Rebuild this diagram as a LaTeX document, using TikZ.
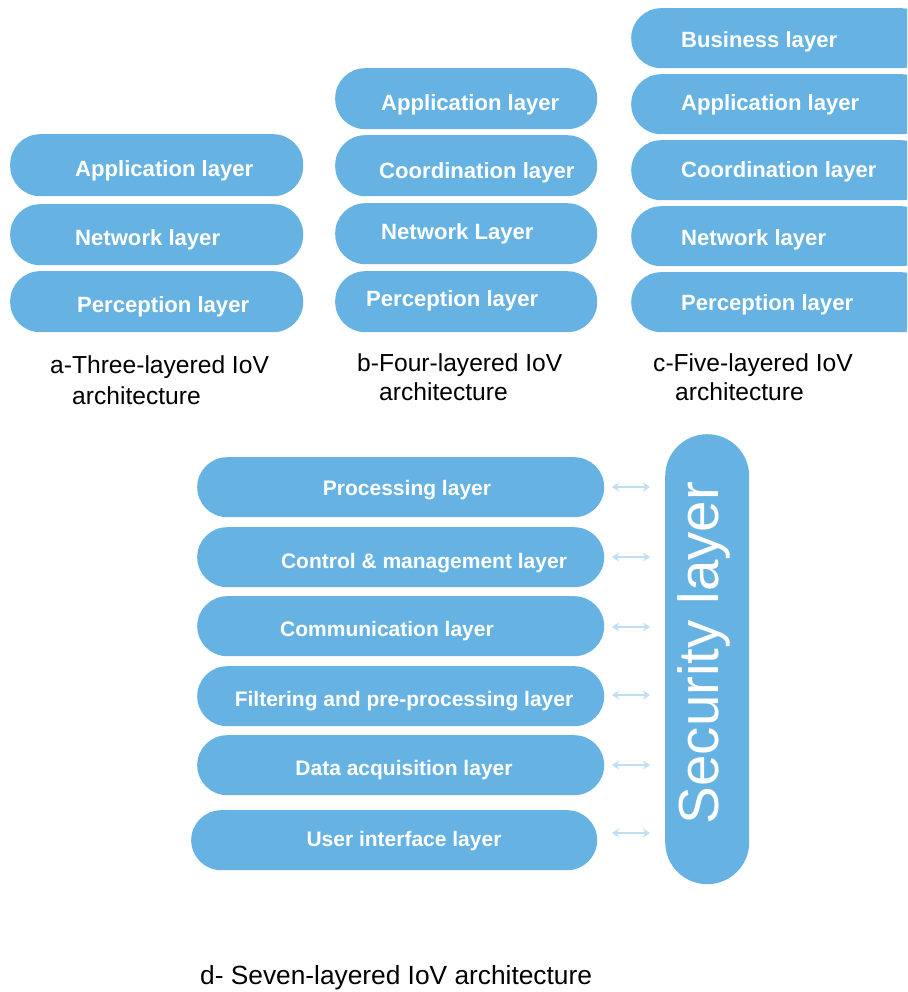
\documentclass[tikz,border=0pt]{standalone}
\usepackage{fontspec}
\setmainfont{Liberation Sans}
\usetikzlibrary{arrows.meta,calc}
\definecolor{layerblue}{HTML}{66B3E3}
\definecolor{arrowblue}{HTML}{BFDFF4}
\tikzset{
  layer/.style={draw=none, fill=layerblue, rectangle, rounded corners=30pt,
    inner sep=0pt, anchor=north west},
  lbl/.style={anchor=base west, text=white, inner sep=0pt,
    font=\bfseries\fontsize{22.1}{25}\selectfont},
  lblc/.style={anchor=base, text=white, inner sep=0pt,
    font=\bfseries\fontsize{21}{24}\selectfont},
  captext/.style={anchor=base west, inner sep=0pt, font=\fontsize{24.6}{27}\selectfont},
  link/.style={arrowblue, line width=1.6pt,
    {Stealth[length=7pt,width=9pt]}-{Stealth[length=7pt,width=9pt]},
    shorten >=15pt},
}
\begin{document}
\begin{tikzpicture}[x=1pt,y=-1pt]
\clip (0,0) rectangle (907,992);
\fill[white] (0,0) rectangle (907,992);

% three-layered stack
\node[layer, minimum width=293pt, minimum height=62pt] (a1) at (10,134) {};
\node[layer, minimum width=293pt, minimum height=61pt] (a2) at (10,204) {};
\node[layer, minimum width=293pt, minimum height=61pt] (a3) at (10,271) {};
\node[lbl] (a1t) at (75,177) {Application layer};
\node[lbl] (a2t) at (75,245) {Network layer};
\node[lbl] (a3t) at (77,312) {Perception layer};
\node[captext] (acap1) at (50,373) {a-Three-layered IoV};
\node[captext] (acap2) at (72,404) {architecture};

% four-layered stack
\node[layer, minimum width=262pt, minimum height=61pt] (b1) at (335,68) {};
\node[layer, minimum width=262pt, minimum height=61pt] (b2) at (335,135) {};
\node[layer, minimum width=262pt, minimum height=61pt] (b3) at (335,203) {};
\node[layer, minimum width=262pt, minimum height=61pt] (b4) at (335,271) {};
\node[lbl] (b1t) at (381,111) {Application layer};
\node[lbl] (b2t) at (379,179) {Coordination layer};
\node[lbl] (b3t) at (381,240) {Network Layer};
\node[lbl] (b4t) at (366,306) {Perception layer};
\node[captext] (bcap1) at (357,371) {b-Four-layered IoV};
\node[captext] (bcap2) at (379,400) {architecture};

% five-layered stack (runs past the right edge)
\node[layer, minimum width=300pt, minimum height=60pt] (c1) at (631,8) {};
\node[layer, minimum width=300pt, minimum height=60pt] (c2) at (631,74) {};
\node[layer, minimum width=300pt, minimum height=60pt] (c3) at (631,140) {};
\node[layer, minimum width=300pt, minimum height=60pt] (c4) at (631,206) {};
\node[layer, minimum width=300pt, minimum height=60pt] (c5) at (631,272) {};
\node[lbl] (c1t) at (681,48) {Business layer};
\node[lbl] (c2t) at (681,111) {Application layer};
\node[lbl] (c3t) at (681,178) {Coordination layer};
\node[lbl] (c4t) at (681,245) {Network layer};
\node[lbl] (c5t) at (681,310) {Perception layer};
\node[captext] (ccap1) at (653,371) {c-Five-layered IoV};
\node[captext] (ccap2) at (675,400) {architecture};

% seven-layered stack with the security layer
\node[layer, minimum width=407pt, minimum height=60pt] (d1) at (197,457) {};
\node[layer, minimum width=407pt, minimum height=60pt] (d2) at (197,527) {};
\node[layer, minimum width=407pt, minimum height=60pt] (d3) at (197,596) {};
\node[layer, minimum width=407pt, minimum height=60pt] (d4) at (197,666) {};
\node[layer, minimum width=407pt, minimum height=60pt] (d5) at (197,735) {};
\node[layer, minimum width=406pt, minimum height=60pt] (d6) at (191,810) {};
\node[lblc] (d1t) at (407,495) {Processing layer};
\node[lblc] (d2t) at (424,568) {Control \& management layer};
\node[lblc] (d3t) at (387,636) {Communication layer};
\node[lblc] (d4t) at (404,706) {Filtering and pre-processing layer};
\node[lblc] (d5t) at (404,775) {Data acquisition layer};
\node[lblc] (d6t) at (404,846) {User interface layer};

\node[layer, rounded corners=42pt, minimum width=84pt, minimum height=450pt] (sec) at (665,434) {};
\node[rotate=90, text=white, inner sep=0pt, font=\fontsize{56.5}{60}\selectfont]
  (sect) at (704,653) {Security layer};

\coordinate (e1) at (612,487);
\coordinate (e2) at (612,557);
\coordinate (e3) at (612,627);
\coordinate (e4) at (612,695);
\coordinate (e5) at (612,765);
\coordinate (e6) at (612,833);
\foreach \i in {1,...,6}
  \draw[link] (e\i) -- (e\i -| sec.west);

\node[captext, font=\fontsize{26.3}{29}\selectfont] (dcap) at (200,984) {d- Seven-layered IoV architecture};
\end{tikzpicture}
\end{document}
